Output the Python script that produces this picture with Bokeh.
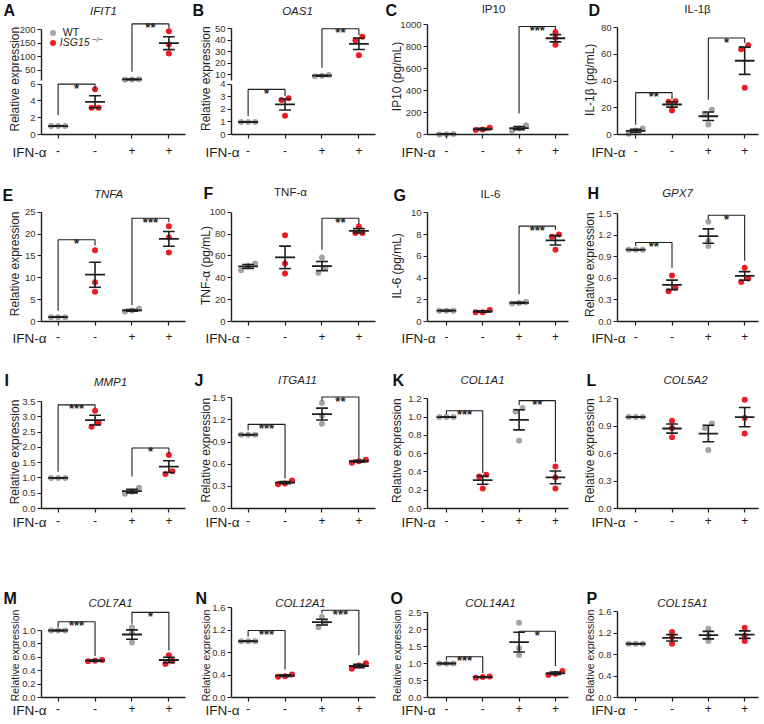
import math
from bokeh.plotting import figure
from bokeh.layouts import column, row
from bokeh.models import (FixedTicker, NumeralTickFormatter, Label, LinearAxis,
                          Legend, LegendItem, Range1d)
from bokeh.embed import file_html
from bokeh.resources import INLINE
from bokeh.core.properties import value

# ---------------- data (groups: WT -, ISG15-/- -, WT +, ISG15-/- +) ----------------
GROUPS = [1, 2, 3, 4]
IFN_SIGNS = ["-", "-", "+", "+"]

IFIT1_PTS = [[1.0, 1.0, 1.0], [5.4, 3.2, 3.2], [16, 15, 14], [195, 145, 112]]
IFIT1_MEAN = [1.0, 3.9, 15, 150]
IFIT1_SEM = [0.0, 0.72, 0.6, 24]
IFIT1_SIG = [(1, 2, 6.0, 2.3, 5.3, "*"), (3, 4, 222, 44, 206, "**")]
IFIT1_TICKS = [0, 2, 4, 6, 50, 100, 150, 200]

OAS1_PTS = [[1, 1, 1], [2.9, 2.75, 1.5], [10, 9.2, 8.8], [43, 40, 27]]
OAS1_MEAN = [1, 2.4, 9.3, 37]
OAS1_SEM = [0, 0.44, 0.35, 5]
OAS1_SIG = [(1, 2, 3.6, 1.47, 3.07, "*"), (3, 4, 50.1, 16.2, 44.3, "**")]
OAS1_TICKS = [0, 1, 2, 3, 4, 10, 20, 30, 40, 50]

IP10_PTS = [[5, 2, 1], [62, 45, 40], [85, 55, 35], [930, 880, 815]]
IP10_MEAN = [3, 49, 58, 875]
IP10_SEM = [1.2, 6.8, 14.5, 33]
IP10_SIG = [(3, 4, 982, 190, 945, "***")]
IP10_TICKS = [0, 200, 400, 600, 800, 1000]

IL1B_PTS = [[4.5, 3, 0.5], [25, 24.5, 18], [18.5, 15, 7.5], [67, 64, 35]]
IL1B_MEAN = [2.7, 22.5, 13.7, 55.3]
IL1B_SEM = [1.2, 2, 3.2, 10.2]
IL1B_SIG = [(1, 2, 31.4, 7.4, 26.5, "**"), (3, 4, 72.3, 26, 68.6, "*")]
IL1B_TICKS = [0, 20, 40, 60, 80]

TNFA_PTS = [[1, 1, 1], [16.3, 9, 6.8], [2.9, 2.5, 2.3], [21.8, 19.2, 15.8]]
TNFA_MEAN = [1, 10.7, 2.55, 18.9]
TNFA_SEM = [0, 2.85, 0.18, 1.7]
TNFA_SIG = [(1, 2, 18.7, 2.45, 17.4, "*"), (3, 4, 23.6, 3.7, 22.7, "***")]
TNFA_TICKS = [0, 5, 10, 15, 20, 25]

TNFP_PTS = [[53, 51, 47], [79, 53, 44], [58.5, 49, 44.5], [87, 81, 81]]
TNFP_MEAN = [50.4, 58.7, 50.7, 83]
TNFP_SEM = [1.8, 10.3, 4.2, 2]
TNFP_SIG = [(3, 4, 94.5, 65.7, 89.3, "**")]
TNFP_TICKS = [0, 20, 40, 60, 80, 100]

IL6_PTS = [[1, 1, 1], [1.05, 0.85, 0.85], [1.8, 1.7, 1.65], [8.0, 7.8, 6.6]]
IL6_MEAN = [1, 0.92, 1.72, 7.47]
IL6_SEM = [0, 0.07, 0.05, 0.43]
IL6_SIG = [(3, 4, 8.77, 2.5, 8.43, "***")]
IL6_TICKS = [0, 2, 4, 6, 8, 10]

GPX7_PTS = [[1, 1, 1], [0.64, 0.47, 0.42], [1.39, 1.12, 1.05], [0.75, 0.6, 0.55]]
GPX7_MEAN = [1, 0.51, 1.19, 0.635]
GPX7_SEM = [0, 0.066, 0.1, 0.06]
GPX7_SIG = [(1, 2, 1.1, 1.05, 0.75, "**"), (3, 4, 1.48, 1.42, 0.845, "*")]
GPX7_TICKS = [0.0, 0.3, 0.6, 0.9, 1.2, 1.5]

MMP1_PTS = [[1, 1, 1], [3.2, 2.8, 2.67], [0.68, 0.55, 0.48], [1.75, 1.22, 1.13]]
MMP1_MEAN = [1, 2.89, 0.57, 1.37]
MMP1_SEM = [0, 0.16, 0.06, 0.19]
MMP1_SIG = [(1, 2, 3.39, 1.2, 3.29, "***"), (3, 4, 1.98, 1.05, 1.79, "*")]
MMP1_TICKS = [0.0, 0.5, 1.0, 1.5, 2.0, 2.5, 3.0, 3.5]

ITGA11_PTS = [[1, 1, 1], [0.38, 0.34, 0.33], [1.43, 1.26, 1.15], [0.66, 0.64, 0.62]]
ITGA11_MEAN = [1, 0.35, 1.28, 0.64]
ITGA11_SEM = [0, 0.015, 0.08, 0.012]
ITGA11_SIG = [(1, 2, 1.14, 1.06, 0.405, "***"), (3, 4, 1.51, 1.46, 0.676, "**")]
ITGA11_TICKS = [0.0, 0.3, 0.6, 0.9, 1.2, 1.5]

COL1A1_PTS = [[1, 1, 1], [0.37, 0.35, 0.22], [1.1, 1.06, 0.74], [0.46, 0.34, 0.22]]
COL1A1_MEAN = [1, 0.31, 0.97, 0.34]
COL1A1_SEM = [0, 0.045, 0.11, 0.07]
COL1A1_SIG = [(1, 2, 1.07, 1.03, 0.39, "***"), (3, 4, 1.18, 1.13, 0.51, "**")]
COL1A1_TICKS = [0.0, 0.2, 0.4, 0.6, 0.8, 1.0, 1.2]

COL5A2_PTS = [[1, 1, 1], [0.96, 0.88, 0.78], [0.93, 0.88, 0.64], [1.19, 0.99, 0.82]]
COL5A2_MEAN = [1, 0.875, 0.82, 1.0]
COL5A2_SEM = [0, 0.05, 0.09, 0.105]
COL5A2_SIG = []
COL5A2_TICKS = [0.0, 0.3, 0.6, 0.9, 1.2]

COL7A1_PTS = [[1, 1, 1], [0.56, 0.55, 0.54], [1.05, 0.97, 0.82], [0.63, 0.55, 0.5]]
COL7A1_MEAN = [1, 0.55, 0.94, 0.56]
COL7A1_SEM = [0, 0.01, 0.07, 0.04]
COL7A1_SIG = [(1, 2, 1.13, 1.05, 0.62, "***"), (3, 4, 1.27, 1.1, 0.7, "*")]
COL7A1_TICKS = [0.0, 0.2, 0.4, 0.6, 0.8, 1.0]

COL12A1_PTS = [[1, 1, 1], [0.41, 0.38, 0.37], [1.43, 1.33, 1.25], [0.61, 0.57, 0.51]]
COL12A1_MEAN = [1, 0.39, 1.34, 0.56]
COL12A1_SEM = [0, 0.015, 0.05, 0.03]
COL12A1_SIG = [(1, 2, 1.19, 1.08, 0.5, "***"), (3, 4, 1.55, 1.5, 0.75, "***")]
COL12A1_TICKS = [0.0, 0.4, 0.8, 1.2, 1.6]

COL14A1_PTS = [[1, 1, 1], [0.62, 0.6, 0.58], [2.2, 1.45, 1.25], [0.78, 0.7, 0.66]]
COL14A1_MEAN = [1, 0.6, 1.63, 0.71]
COL14A1_SEM = [0, 0.012, 0.29, 0.035]
COL14A1_SIG = [(1, 2, 1.2, 1.09, 0.72, "***"), (3, 4, 1.95, 1.9, 0.92, "*")]
COL14A1_TICKS = [0.0, 0.5, 1.0, 1.5, 2.0, 2.5]

COL15A1_PTS = [[1, 1, 1], [1.22, 1.12, 1.0], [1.28, 1.15, 1.05], [1.3, 1.15, 1.05]]
COL15A1_MEAN = [1, 1.11, 1.16, 1.17]
COL15A1_SEM = [0, 0.06, 0.07, 0.07]
COL15A1_SIG = []
COL15A1_TICKS = [0.0, 0.4, 0.8, 1.2, 1.6]

REL = "Relative expression"

# ---------------- styling / layout ----------------
FONT = "Liberation Sans"
GRAY = "#a4a4a4"
RED = "#ee1c24"
INK = "#1e1e1e"

COL_LEFT = [0, 190, 380, 570]
COL_W = [190, 190, 190, 192]
FRAME_L = [41, 231, 427, 617]
FRAME_R = [185, 375, 568, 758]
X_RANGES = [(0.55, 4.45), (0.55, 4.45), (0.48, 4.36), (0.5, 4.38)]
ROW_TOP = [0, 175, 350, 535]
ROW_H = [175, 175, 185, 187]
FRAME_B = [134, 321, 508, 697]
IFN_Y = [152, 338, 522, 710]
YLABEL_X = [14, 205, 396, 589]
IFN_X = [12, 205, 401, 591]
YLABEL_SIZE = ["12px", "12px", "12px", "10.5px"]
YLABEL_CY = [None, None, None, 655]
LETTER_XY = [(3, 10), (192, 10), (385, 10), (588, 10),
             (2, 195), (203, 193), (393, 195), (587, 193),
             (4, 380), (194, 380), (392, 380), (586, 380),
             (3, 598), (195, 598), (390, 598), (586, 598)]
TITLE_XY = [(103, 10), (297, 10), (493, 8), (697, 8),
            (108, 193), (290, 191), (490, 193), (677, 192),
            (110, 381), (297, 379), (482, 379), (685, 379),
            (110, 602), (300, 602), (490, 602), (682, 602)]

# (letter, title, italic, ylabel, pts, mean, sem, sig, ticks, fmt, top tick screen y, axis break)
PANELS = [
    ("A", "IFIT1", True, REL, IFIT1_PTS, IFIT1_MEAN, IFIT1_SEM, IFIT1_SIG, IFIT1_TICKS, "0", 29.3, (6, 10, 0.4, 0.032)),
    ("B", "OAS1", True, REL, OAS1_PTS, OAS1_MEAN, OAS1_SEM, OAS1_SIG, OAS1_TICKS, "0", 28.3, (4, 5, 0.3, 0.092)),
    ("C", "IP10", False, "IP10 (pg/mL)", IP10_PTS, IP10_MEAN, IP10_SEM, IP10_SIG, IP10_TICKS, "0", 24, None),
    ("D", "IL-1\u03b2", False, "IL-1\u03b2  (pg/mL)", IL1B_PTS, IL1B_MEAN, IL1B_SEM, IL1B_SIG, IL1B_TICKS, "0", 27.3, None),
    ("E", "TNFA", True, REL, TNFA_PTS, TNFA_MEAN, TNFA_SEM, TNFA_SIG, TNFA_TICKS, "0", 211.7, None),
    ("F", "TNF-\u03b1", False, "TNF-\u03b1  (pg/mL)", TNFP_PTS, TNFP_MEAN, TNFP_SEM, TNFP_SIG, TNFP_TICKS, "0", 211.7, None),
    ("G", "IL-6", False, "IL-6  (pg/mL)", IL6_PTS, IL6_MEAN, IL6_SEM, IL6_SIG, IL6_TICKS, "0", 212.3, None),
    ("H", "GPX7", True, REL, GPX7_PTS, GPX7_MEAN, GPX7_SEM, GPX7_SIG, GPX7_TICKS, "0.0", 213.3, None),
    ("I", "MMP1", True, REL, MMP1_PTS, MMP1_MEAN, MMP1_SEM, MMP1_SIG, MMP1_TICKS, "0.0", 401, None),
    ("J", "ITGA11", True, REL, ITGA11_PTS, ITGA11_MEAN, ITGA11_SEM, ITGA11_SIG, ITGA11_TICKS, "0.0", 397.3, None),
    ("K", "COL1A1", True, REL, COL1A1_PTS, COL1A1_MEAN, COL1A1_SEM, COL1A1_SIG, COL1A1_TICKS, "0.0", 398.3, None),
    ("L", "COL5A2", True, REL, COL5A2_PTS, COL5A2_MEAN, COL5A2_SEM, COL5A2_SIG, COL5A2_TICKS, "0.0", 398.3, None),
    ("M", "COL7A1", True, REL, COL7A1_PTS, COL7A1_MEAN, COL7A1_SEM, COL7A1_SIG, COL7A1_TICKS, "0.0", 630, None),
    ("N", "COL12A1", True, REL, COL12A1_PTS, COL12A1_MEAN, COL12A1_SEM, COL12A1_SIG, COL12A1_TICKS, "0.0", 607, None),
    ("O", "COL14A1", True, REL, COL14A1_PTS, COL14A1_MEAN, COL14A1_SEM, COL14A1_SIG, COL14A1_TICKS, "0.0", 612, None),
    ("P", "COL15A1", True, REL, COL15A1_PTS, COL15A1_MEAN, COL15A1_SEM, COL15A1_SIG, COL15A1_TICKS, "0.0", 611, None),
]


def make_tf(brk):
    if brk is None:
        return lambda v: v
    lo_top, hi_lo, gap, k = brk

    def tf(v):
        if v <= lo_top:
            return v
        if v >= hi_lo:
            return lo_top + gap + (v - hi_lo) * k
        return lo_top + (v - lo_top) / (hi_lo - lo_top) * gap
    return tf


def swarm(vals, tf, ppy, ppx):
    order = sorted(range(len(vals)), key=lambda i: vals[i])
    clusters = []
    for i in order:
        if clusters and (tf(vals[i]) - tf(vals[clusters[-1][-1]])) * ppy < 5:
            clusters[-1].append(i)
        else:
            clusters.append([i])
    off = [0.0] * len(vals)
    for cl in clusters:
        n = len(cl)
        for k, i in enumerate(cl):
            off[i] = (k - (n - 1) / 2) * 7.0 / ppx
    return off


def style_yaxis(ax):
    ax.major_tick_out = 4
    ax.major_tick_in = 0
    ax.minor_tick_line_color = None
    ax.major_tick_line_color = INK
    ax.major_tick_line_width = 1.2
    ax.axis_line_color = INK
    ax.axis_line_width = 1.4
    ax.major_label_standoff = 2
    ax.major_label_text_font = FONT
    ax.major_label_text_font_size = "9.5px"
    ax.major_label_text_color = "#333333"


def build(idx, spec):
    r, c = divmod(idx, 4)
    letter, title, italic, ylabel, pts, mean, sem, sig, ticks, fmt, top_sy, brk = spec
    tf = make_tf(brk)
    fl, fr, fb = FRAME_L[c], FRAME_R[c], FRAME_B[r]
    xs, xe = X_RANGES[c]
    ppx = (fr - fl) / (xe - xs)
    top = tf(ticks[-1])
    ppy = (fb - top_sy) / top
    L, T, W, H = COL_LEFT[c], ROW_TOP[r], COL_W[c], ROW_H[r]

    def X(sx):
        return xs + (sx - fl) / ppx

    def Y(sy):
        return (fb - sy) / ppy

    p = figure(width=W, height=H, x_range=Range1d(X(L), X(L + W)), y_range=Range1d(Y(T + H), Y(T)),
               output_backend="svg", toolbar_location=None, tools="",
               min_border_left=0, min_border_right=0, min_border_top=0, min_border_bottom=0)
    p.outline_line_color = None
    p.xgrid.visible = False
    p.ygrid.visible = False

    # points
    gx, gy, rx, ry = [], [], [], []
    for g, vals in enumerate(pts):
        offs = swarm(vals, tf, ppy, ppx)
        for v, o in zip(vals, offs):
            if g % 2 == 0:
                gx.append(GROUPS[g] + o)
                gy.append(tf(v))
            else:
                rx.append(GROUPS[g] + o)
                ry.append(tf(v))
    gr = p.scatter(gx, gy, size=6, fill_color=GRAY, line_color=None)
    rr = p.scatter(rx, ry, size=6, fill_color=RED, line_color=None)

    # mean and SEM
    hw, cw = 0.27, 0.16
    my = [tf(m) for m in mean]
    lo = [tf(m - s) for m, s in zip(mean, sem)]
    hi = [tf(m + s) for m, s in zip(mean, sem)]
    p.segment(x0=[x - hw for x in GROUPS], x1=[x + hw for x in GROUPS], y0=my, y1=my,
              line_width=1.8, line_color=INK)
    p.segment(x0=GROUPS, x1=GROUPS, y0=lo, y1=hi, line_width=1.6, line_color=INK)
    p.segment(x0=[x - cw for x in GROUPS], x1=[x + cw for x in GROUPS], y0=hi, y1=hi,
              line_width=1.6, line_color=INK)
    p.segment(x0=[x - cw for x in GROUPS], x1=[x + cw for x in GROUPS], y0=lo, y1=lo,
              line_width=1.6, line_color=INK)

    # significance brackets
    if sig:
        bxs = [[a, a, b, b] for a, b, t, la, lb, s in sig]
        bys = [[tf(la), tf(t), tf(t), tf(lb)] for a, b, t, la, lb, s in sig]
        p.multi_line(xs=bxs, ys=bys, line_width=1.1, line_color=INK)
        p.text(x=[(a + b) / 2 for a, b, t, la, lb, s in sig], y=[tf(t) for a, b, t, la, lb, s in sig],
               text=[s for a, b, t, la, lb, s in sig], text_align="center", text_baseline="alphabetic",
               y_offset=4, text_font=value(FONT), text_font_size="13px", text_font_style="bold",
               text_color=INK)

    # x axis (inside the canvas, at y = 0)
    xa = p.xaxis[0]
    xa.fixed_location = 0
    xa.bounds = (xs, xe)
    xa.ticker = FixedTicker(ticks=GROUPS)
    xa.major_label_overrides = {g: s for g, s in zip(GROUPS, IFN_SIGNS)}
    xa.major_label_standoff = IFN_Y[r] - fb - 11
    xa.major_label_text_font = FONT
    xa.major_label_text_font_size = "12px"
    xa.major_label_text_color = INK
    xa.major_tick_out = 4
    xa.major_tick_in = 0
    xa.minor_tick_line_color = None
    xa.axis_line_width = 1.4
    xa.axis_line_color = INK
    xa.major_tick_line_color = INK
    xa.major_tick_line_width = 1.2

    # y axis (inside the canvas, at the left end of the x axis)
    ya = p.yaxis[0]
    ya.fixed_location = xs
    style_yaxis(ya)
    if brk is None:
        ya.ticker = FixedTicker(ticks=list(ticks))
        ya.formatter = NumeralTickFormatter(format=fmt)
        ya.bounds = (0, top)
    else:
        lo_top, hi_lo = brk[0], brk[1]
        low_ticks = [t for t in ticks if t <= lo_top]
        up_ticks = [t for t in ticks if t > lo_top]
        ya.ticker = FixedTicker(ticks=low_ticks)
        ya.formatter = NumeralTickFormatter(format=fmt)
        ya.bounds = (0, lo_top)
        up_disp = [round(tf(t), 6) for t in up_ticks]
        ov = {}
        for d, t in zip(up_disp, up_ticks):
            ov[d] = str(t)
            ov[repr(d)] = str(t)
        ya2 = LinearAxis(fixed_location=xs, bounds=(tf(hi_lo), top),
                         ticker=FixedTicker(ticks=up_disp), major_label_overrides=ov)
        style_yaxis(ya2)
        p.add_layout(ya2, "left")

    # texts
    lx, ly = LETTER_XY[idx]
    tx, ty = TITLE_XY[idx]
    p.add_layout(Label(x=X(lx), y=Y(ly), text=letter, text_font=FONT,
                       text_font_size="16px", text_font_style="bold", text_align="left",
                       text_baseline="middle", text_color="#111111"))
    p.add_layout(Label(x=X(tx), y=Y(ty), text=title, text_font=FONT,
                       text_font_size="11.5px", text_font_style="italic" if italic else "normal",
                       text_align="center", text_baseline="middle", text_color=INK))
    cy = YLABEL_CY[r] if YLABEL_CY[r] is not None else (fb + top_sy) / 2 - 3
    p.add_layout(Label(x=X(YLABEL_X[c]), y=Y(cy), text=ylabel, angle=math.pi / 2,
                       text_font=FONT, text_font_size=YLABEL_SIZE[r], text_align="center",
                       text_baseline="middle", text_color=INK))
    p.add_layout(Label(x=X(IFN_X[c]), y=Y(IFN_Y[r]), text="IFN-\u03b1", text_font=FONT,
                       text_font_size="13.5px", text_align="left", text_baseline="middle",
                       text_color=INK))

    if idx == 0:
        common = dict(padding=0, margin=0, spacing=0, glyph_width=15, glyph_height=15,
                      label_height=15, label_text_font=FONT, label_text_font_size="10.5px",
                      border_line_color=None, background_fill_alpha=0, label_text_color=INK)
        leg1 = Legend(items=[LegendItem(label="WT", renderers=[gr])],
                      location=(44.8 - L, T + H - 39.8), label_standoff=3, **common)
        leg2 = Legend(items=[LegendItem(label="ISG15", renderers=[rr])],
                      location=(44.8 - L, T + H - 49.8), label_standoff=0,
                      label_text_font_style="italic", **common)
        p.add_layout(leg1)
        p.add_layout(leg2)
        p.add_layout(Label(x=X(91.5), y=Y(38.5), text="\u2212/\u2212", text_font=FONT,
                           text_font_size="7.5px", text_align="left", text_baseline="middle",
                           text_color=INK))
    return p


figs = [build(i, s) for i, s in enumerate(PANELS)]
layout = column(*[row(*figs[r * 4:(r + 1) * 4]) for r in range(4)])

with open("out.html", "w") as f:
    f.write(file_html(layout, INLINE))
